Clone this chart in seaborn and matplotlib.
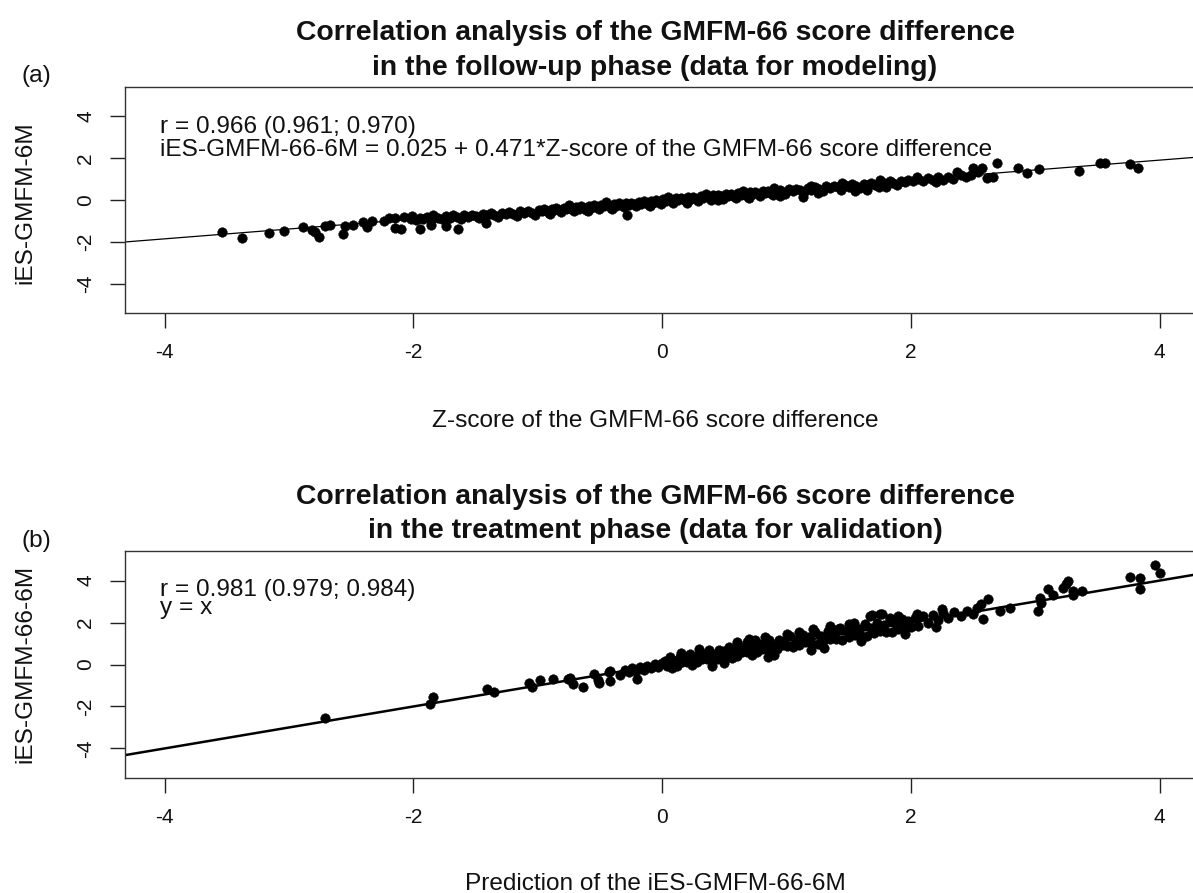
import matplotlib
matplotlib.use("Agg")
import matplotlib.pyplot as plt
import seaborn as sns
import pandas as pd

# ---------------- data: panel (a) ----------------
a_x = [-3.54, -3.38, -3.16, -3.04, -2.89, -2.82, -2.76, -2.79, -2.71, -2.67, -2.57, -2.55, -2.49,
       -2.41, -2.37, -2.33, -2.24, -2.20, -2.15, -2.15, -2.10, -2.08, -2.01, -1.95, -1.86, -1.84,
       -1.74, -1.64, -1.42, -0.28, 1.13,
       -2.02, -1.98, -1.95, -1.92, -1.89, -1.86, -1.83, -1.80, -1.77, -1.74, -1.71, -1.68, -1.65,
       -1.62, -1.59, -1.56, -1.53, -1.50, -1.47, -1.44, -1.41, -1.38, -1.35, -1.32, -1.29, -1.26,
       -1.23, -1.20, -1.17, -1.14, -1.11, -1.08, -1.05, -1.02,
       -0.99, -0.97, -0.95, -0.93, -0.91, -0.89, -0.87, -0.85, -0.83, -0.81, -0.79, -0.77, -0.75,
       -0.73, -0.71, -0.69, -0.67, -0.65, -0.63, -0.61, -0.59, -0.57, -0.55, -0.53, -0.51, -0.49,
       -0.47, -0.45, -0.43, -0.41, -0.39, -0.37, -0.35, -0.33, -0.31, -0.29, -0.27, -0.25, -0.23,
       -0.21, -0.19, -0.17, -0.15, -0.13, -0.11, -0.09, -0.07, -0.05, -0.03, -0.01,
       0.01, 0.03, 0.05, 0.07, 0.09, 0.11, 0.13, 0.15, 0.17, 0.19, 0.21, 0.23, 0.25, 0.27, 0.29,
       0.31, 0.33, 0.35, 0.37, 0.39, 0.41, 0.43, 0.45, 0.47, 0.49, 0.51, 0.53, 0.55, 0.57, 0.59,
       0.61, 0.63, 0.65, 0.67, 0.69, 0.71, 0.73, 0.75, 0.77, 0.79, 0.81, 0.83, 0.85, 0.87, 0.89,
       0.91, 0.93, 0.95, 0.97, 0.99,
       1.02, 1.05, 1.08, 1.11, 1.14, 1.17, 1.20, 1.23, 1.26, 1.29, 1.32, 1.35, 1.38, 1.41, 1.44,
       1.47, 1.50, 1.53, 1.56, 1.59, 1.62, 1.65, 1.68, 1.71, 1.74, 1.77, 1.80, 1.83, 1.86, 1.89,
       1.92, 1.95, 1.98,
       2.02, 2.06, 2.10, 2.14, 2.18, 2.22, 2.26, 2.30, 2.34, 2.40, 2.44, 2.48,
       2.37, 2.50, 2.54, 2.57, 2.61, 2.66, 2.69, 2.86, 2.93, 3.03, 3.35, 3.52, 3.56, 3.76, 3.83,
       -0.90, -0.60, -0.40, -0.10, 0.20, 0.45, 0.70, 0.95, 1.25, 1.55, 1.80, -0.75, -0.45, 0.05,
       0.35, 0.65, 0.90, 1.20, 1.45, 1.75, 2.05, 2.20, 1.65]
a_y = [-1.53, -1.82, -1.58, -1.48, -1.29, -1.44, -1.77, -1.53, -1.24, -1.20, -1.63, -1.24, -1.20,
       -1.05, -1.29, -1.00, -1.00, -0.86, -0.86, -1.34, -1.39, -0.80, -0.78, -1.39, -1.20, -0.74,
       -1.24, -1.39, -1.10, -0.72, 0.14,
       -0.90, -0.98, -0.85, -0.93, -0.82, -0.96, -0.80, -0.88, -0.92, -0.78, -0.86, -0.74, -0.83,
       -0.92, -0.72, -0.80, -0.70, -0.78, -0.86, -0.66, -0.74, -0.63, -0.71, -0.80, -0.60, -0.68,
       -0.58, -0.66, -0.75, -0.54, -0.62, -0.52, -0.60, -0.70,
       -0.47, -0.55, -0.44, -0.52, -0.62, -0.42, -0.50, -0.40, -0.48, -0.57, -0.37, -0.45, -0.35,
       -0.43, -0.52, -0.33, -0.41, -0.30, -0.38, -0.48, -0.28, -0.36, -0.26, -0.34, -0.44, -0.23,
       -0.31, -0.21, -0.29, -0.39, -0.19, -0.27, -0.16, -0.24, -0.34, -0.14, -0.22, -0.12, -0.20,
       -0.30, -0.09, -0.17, -0.07, -0.15, -0.25, -0.04, -0.12, -0.02, -0.10, -0.20,
       0.03, -0.05, 0.06, -0.02, -0.12, 0.08, 0.00, 0.11, 0.03, -0.07, 0.13, 0.05, 0.15, 0.07, -0.03,
       0.18, 0.10, 0.20, 0.12, 0.02, 0.22, 0.14, 0.25, 0.17, 0.07, 0.27, 0.19, 0.29, 0.21, 0.11,
       0.32, 0.24, 0.34, 0.26, 0.16, 0.36, 0.28, 0.39, 0.31, 0.21, 0.41, 0.33, 0.43, 0.35, 0.25,
       0.46, 0.38, 0.48, 0.40, 0.30,
       0.52, 0.43, 0.55, 0.47, 0.36, 0.58, 0.50, 0.61, 0.53, 0.43, 0.65, 0.57, 0.68, 0.60, 0.50,
       0.72, 0.64, 0.75, 0.67, 0.57, 0.78, 0.70, 0.82, 0.74, 0.63, 0.85, 0.77, 0.89, 0.81, 0.70,
       0.92, 0.84, 0.96,
       0.90, 1.00, 0.93, 1.04, 0.96, 1.08, 0.98, 1.12, 1.02, 1.18, 1.10, 1.22,
       1.34, 1.53, 1.34, 1.53, 1.05, 1.10, 1.77, 1.53, 1.29, 1.48, 1.39, 1.77, 1.77, 1.72, 1.53,
       -0.68, -0.55, -0.45, -0.30, -0.15, 0.00, 0.08, 0.20, 0.32, 0.45, 0.60, -0.25, -0.10, 0.12,
       0.28, 0.41, 0.56, 0.68, 0.82, 0.95, 1.10, 0.85, 0.48]
a_intercept = 0.025
a_slope = 0.471

# ---------------- data: panel (b) ----------------
b_x = [-2.71, -1.87, -1.84, -1.41, -1.35, -1.07, -1.05, -0.98, -0.88, -0.76, -0.72, -0.64, -0.55,
       -0.51, -0.43, -0.42, -0.34, -0.74, -0.52, -0.42, -0.20,
       -0.30, -0.27, -0.24, -0.21, -0.18, -0.15, -0.12, -0.09, -0.06, -0.03, 0.00,
       0.02, 0.04, 0.06, 0.08, 0.10, 0.12, 0.14, 0.16, 0.18, 0.20, 0.22, 0.24, 0.26, 0.28, 0.30,
       0.32, 0.34, 0.36, 0.38, 0.40, 0.42, 0.44, 0.46, 0.48, 0.50, 0.52, 0.54, 0.56, 0.58, 0.60,
       0.62, 0.64, 0.66, 0.68, 0.70, 0.72, 0.74, 0.76, 0.78, 0.80, 0.82, 0.84, 0.86, 0.88, 0.90,
       0.92, 0.94, 0.96, 0.98, 1.00,
       1.03, 1.05, 1.08, 1.10, 1.13, 1.15, 1.18, 1.20, 1.23, 1.25, 1.28, 1.30, 1.33, 1.35, 1.38,
       1.40, 1.43, 1.45, 1.48, 1.50, 1.53, 1.55, 1.58, 1.60, 1.63, 1.65, 1.68, 1.70, 1.73, 1.75,
       1.78, 1.80, 1.83, 1.85, 1.88, 1.90, 1.93, 1.95, 1.98, 2.00,
       1.21, 1.41, 1.54, 1.67, 1.69, 1.75, 1.77, 1.83, 2.05, 0.68, 0.75, 0.83,
       2.03, 2.06, 2.10, 2.14, 2.18, 2.22, 2.26, 2.30, 2.35, 2.40, 2.45, 2.50,
       2.62, 2.56, 2.53, 2.58, 2.72, 2.80, 3.02, 3.04, 3.10, 3.14, 3.22, 3.26, 3.25, 3.30, 3.38,
       3.30, 3.76, 3.84, 3.84, 3.96, 4.00, 3.05,
       0.30, 0.50, 0.70, 0.90, 1.10, 1.30, 1.50, 1.60, 1.90, 1.95, 0.15, 0.40, 1.00, 1.20, 2.25,
       2.20, 1.35, 0.60, 0.85]
b_y = [-2.57, -1.86, -1.57, -1.19, -1.29, -0.86, -1.05, -0.76, -0.67, -0.71, -0.95, -1.05, -0.43,
       -0.86, -0.38, -0.81, -0.48, -0.62, -0.76, -0.29, -0.67,
       -0.28, -0.38, -0.18, -0.30, -0.12, -0.24, -0.05, -0.18, 0.02, -0.12, 0.08,
       0.17, -0.06, 0.36, -0.17, 0.15, -0.06, 0.36, 0.11, 0.33, 0.10, 0.52, -0.01, 0.31, 0.10, 0.52,
       0.27, 0.49, 0.26, 0.68, 0.15, 0.47, 0.26, 0.68, 0.43, 0.65, 0.42, 0.84, 0.31, 0.63, 0.42,
       0.84, 0.59, 0.81, 0.58, 1.00, 0.47, 0.79, 0.58, 1.00, 0.75, 0.97, 0.74, 1.16, 0.63, 0.95,
       0.74, 1.16, 0.91, 1.13, 0.90,
       1.35, 0.82, 1.15, 0.95, 1.40, 1.05, 1.30, 1.02, 1.55, 0.98, 1.38, 1.15, 1.60, 1.22, 1.50,
       1.20, 1.75, 1.18, 1.58, 1.32, 1.80, 1.40, 1.70, 1.38, 1.92, 1.36, 1.76, 1.52, 1.98, 1.58,
       1.88, 1.56, 2.10, 1.55, 1.95, 1.70, 2.15, 1.75, 2.05, 1.78,
       1.71, 1.71, 2.00, 2.33, 2.38, 2.43, 2.43, 2.24, 2.43, 1.05, 1.19, 1.29,
       2.20, 1.85, 2.30, 2.00, 2.35, 2.10, 2.45, 2.20, 2.50, 2.30, 2.55, 2.40,
       3.10, 2.90, 2.71, 2.19, 2.57, 2.67, 2.57, 3.19, 3.62, 3.29, 3.67, 4.00, 3.86, 3.29, 3.52,
       3.52, 4.19, 4.14, 3.62, 4.76, 4.38, 2.95,
       0.75, 0.05, 1.20, 0.45, 1.55, 0.80, 1.95, 1.10, 2.30, 1.45, 0.55, -0.05, 1.45, 0.70, 2.65,
       1.80, 1.85, 1.05, 0.35]
b_intercept = 0.0
b_slope = 1.0

title_a = ["Correlation analysis of the GMFM-66 score difference",
           "in the follow-up phase (data for modeling)"]
title_b = ["Correlation analysis of the GMFM-66 score difference",
           "in the treatment phase (data for validation)"]
xlab_a = "Z-score of the GMFM-66 score difference"
xlab_b = "Prediction of the iES-GMFM-66-6M"
ylab_a = "iES-GMFM-6M"
ylab_b = "iES-GMFM-66-6M"
ann_a = ["r = 0.966 (0.961; 0.970)",
         "iES-GMFM-66-6M = 0.025 + 0.471*Z-score of the GMFM-66 score difference"]
ann_b = ["r = 0.981 (0.979; 0.984)", "y = x"]
xticks = [-4, -2, 0, 2, 4]
yticks = [-4, -2, 0, 2, 4]

# ---------------- drawing ----------------
sns.set_theme(style="white")
plt.rcParams["font.family"] = ["Liberation Sans", "DejaVu Sans"]

FS = 17.6      # labels / annotations
TKS = 15.0     # tick labels
TFS = 20.4     # titles
TXT = "#111111"

W, H = 1193, 893
fig = plt.figure(figsize=(W / 100, H / 100), dpi=100)

def px_axes(left, top, right, bottom):
    return fig.add_axes([left / W, 1 - bottom / H, (right - left) / W, (bottom - top) / H])

ax1 = px_axes(125, 87, 1200, 313)
ax2 = px_axes(125, 551, 1200, 778)

def style(ax, xlim, ylim):
    ax.set_xlim(*xlim)
    ax.set_ylim(*ylim)
    ax.set_xticks(xticks)
    ax.set_yticks(yticks)
    ax.set_xticklabels([str(t) for t in xticks])
    ax.set_yticklabels([str(t) for t in yticks], rotation=90, va="center")
    for s in ["left", "bottom", "top", "right"]:
        ax.spines[s].set_color("#333333")
        ax.spines[s].set_linewidth(1.0)
    ax.tick_params(axis="both", which="major", direction="out", length=10.5, width=1.0,
                   color="#222222", labelsize=TKS, labelcolor=TXT,
                   bottom=True, left=True, top=False, right=False)
    ax.tick_params(axis="x", pad=11)
    ax.tick_params(axis="y", pad=11)
    ax.set_xlabel("")
    ax.set_ylabel("")

dfa = pd.DataFrame({"x": a_x, "y": a_y})
dfb = pd.DataFrame({"x": b_x, "y": b_y})

sns.scatterplot(data=dfa, x="x", y="y", ax=ax1, s=48, color="black", edgecolor="black",
                linewidth=0.3, zorder=3)
ax1.axline((0, a_intercept), slope=a_slope, color="black", lw=0.9, zorder=2)
style(ax1, (-4.32, 4.325), (-5.41, 5.41))

sns.scatterplot(data=dfb, x="x", y="y", ax=ax2, s=48, color="black", edgecolor="black",
                linewidth=0.3, zorder=3)
ax2.axline((0, b_intercept), slope=b_slope, color="black", lw=1.8, zorder=2)
style(ax2, (-4.32, 4.325), (-5.41, 5.41))

ax1.text(-4.04, 3.49, ann_a[0], fontsize=FS, va="center", ha="left", color=TXT)
ax1.text(-4.04, 2.39, ann_a[1], fontsize=FS, va="center", ha="left", color=TXT)
ax2.text(-4.04, 3.12, "\n".join(ann_b), fontsize=FS, va="center", ha="left", color=TXT,
         linespacing=0.72)

cx = 655 / W
for line, yy in zip(title_a, [33, 68]):
    fig.text(cx, 1 - yy / H, line, fontsize=TFS, fontweight="bold", ha="center",
             va="center", color=TXT)
for line, yy in zip(title_b, [497, 531]):
    fig.text(cx, 1 - yy / H, line, fontsize=TFS, fontweight="bold", ha="center",
             va="center", color=TXT)
fig.text(22 / W, 1 - 76 / H, "(a)", fontsize=FS, ha="left", va="center", color=TXT)
fig.text(22 / W, 1 - 541 / H, "(b)", fontsize=FS, ha="left", va="center", color=TXT)
fig.text(cx, 1 - 421 / H, xlab_a, fontsize=FS, ha="center", va="center", color=TXT)
fig.text(cx, 1 - 884 / H, xlab_b, fontsize=FS, ha="center", va="center", color=TXT)
fig.text(25 / W, 1 - 203 / H, ylab_a, fontsize=FS, rotation=90, ha="center", va="center",
         color=TXT)
fig.text(25 / W, 1 - 664 / H, ylab_b, fontsize=FS, rotation=90, ha="center", va="center",
         color=TXT)

fig.savefig("out.png", dpi=100)
